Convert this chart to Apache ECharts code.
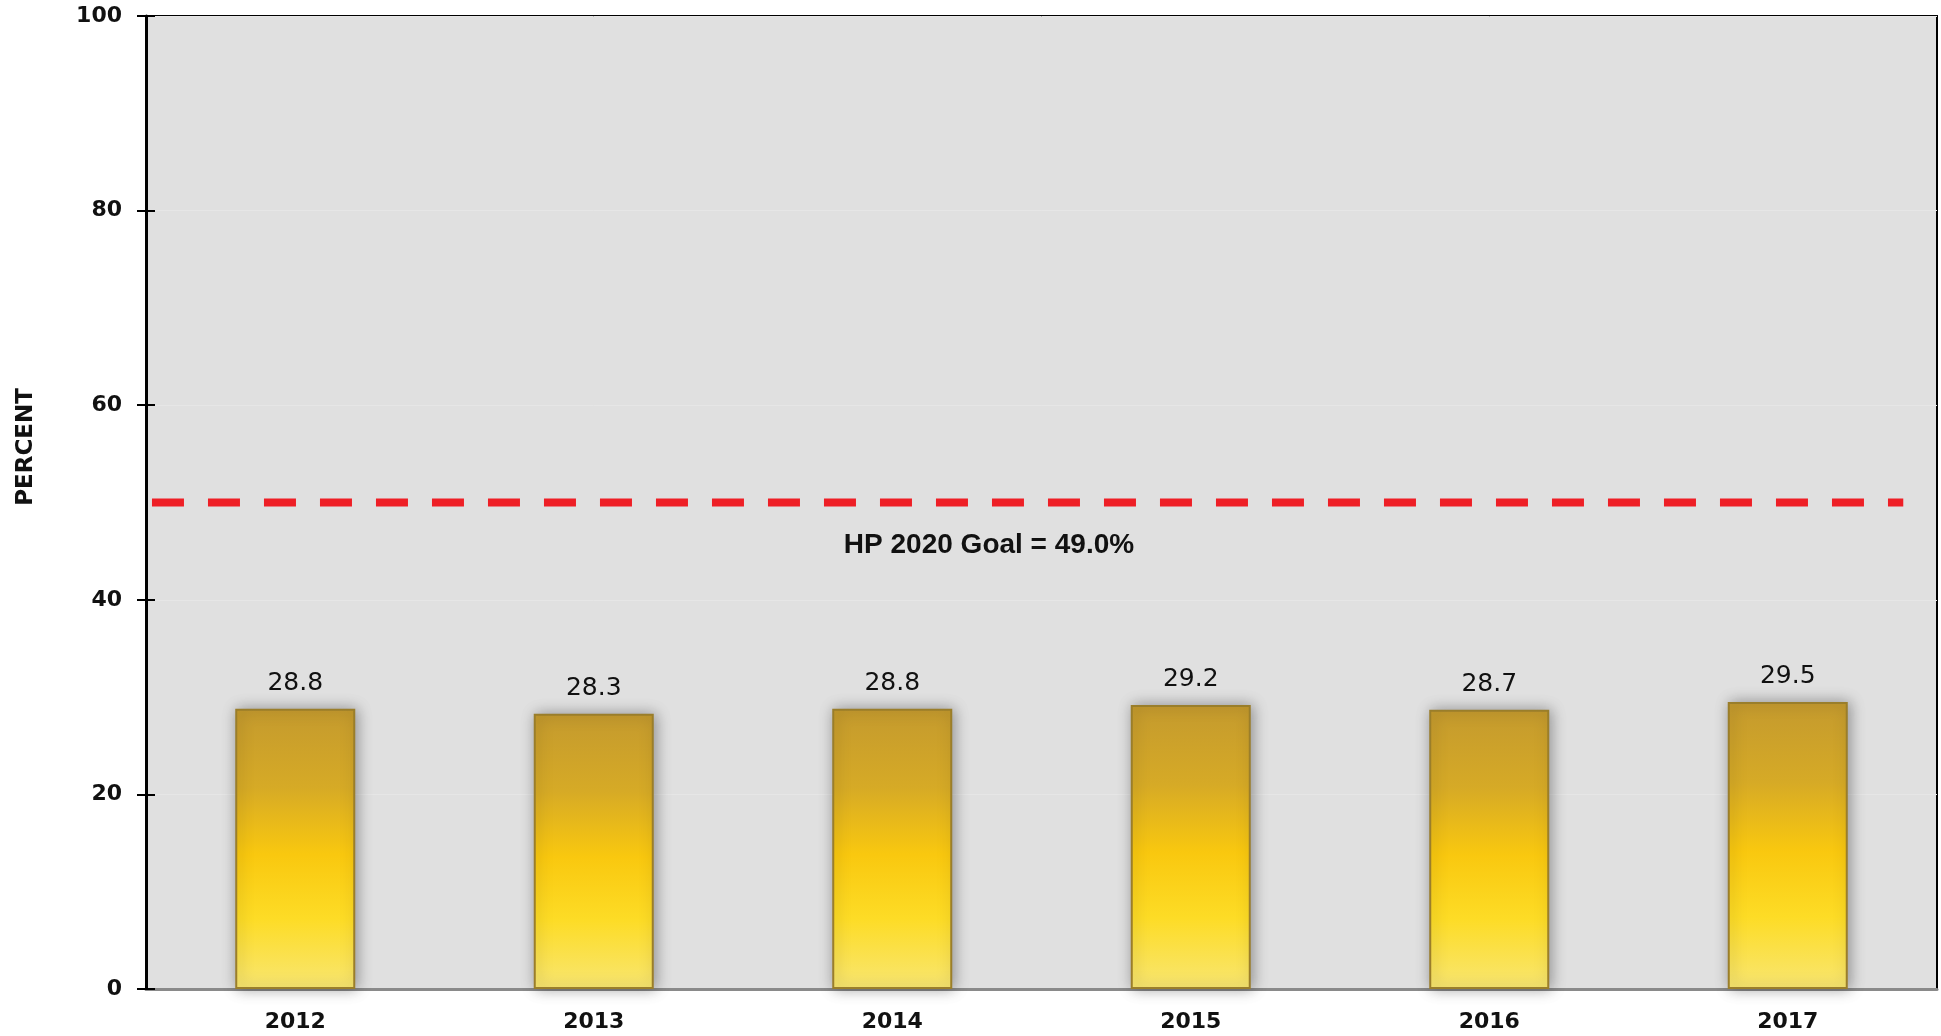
<!DOCTYPE html>
<html>
<head>
<meta charset="utf-8">
<script src="https://cdn.jsdelivr.net/npm/echarts@6/dist/echarts.min.js"></script>
<style>
  html, body { margin: 0; padding: 0; background: #fff; }
  #chart { width: 1941px; height: 1036px; }
</style>
</head>
<body>
<div id="chart"></div>
<script>
// data
const years = ['2012', '2013', '2014', '2015', '2016', '2017']
const percents = [28.8, 28.3, 28.8, 29.2, 28.7, 29.5]
const goalValue = 50
const goalLabel = 'HP 2020 Goal = 49.0%'
const yTicks = [0, 20, 40, 60, 80, 100]

const chart = echarts.init(document.getElementById('chart'))

const barColor = new echarts.graphic.LinearGradient(0, 0, 0, 1, [
  { offset: 0, color: '#c49a2e' },
  { offset: 0.28, color: '#d6aa26' },
  { offset: 0.52, color: '#f9c80f' },
  { offset: 0.75, color: '#fddc26' },
  { offset: 1, color: '#f8e672' }
])

const option = {
  backgroundColor: '#fff',
  animation: false,
  grid: {
    left: 146,
    right: 4,
    top: 16,
    bottom: 47,
    show: true,
    backgroundColor: '#e0e0e0',
    borderColor: '#000',
    borderWidth: 2
  },
  xAxis: [
    {
      type: 'category',
      data: years,
      axisLine: { lineStyle: { color: '#8a8a8a', width: 3 } },
      axisTick: { show: false },
      axisLabel: {
        margin: 22,
        color: '#111',
        fontFamily: 'DejaVu Sans',
        fontWeight: 'bold',
        fontSize: 22
      }
    },
    {
      type: 'value',
      min: 0,
      max: 6,
      show: false
    }
  ],
  yAxis: [
    {
      type: 'value',
      min: yTicks[0],
      max: yTicks[yTicks.length - 1],
      interval: 20,
      axisLine: { show: true, lineStyle: { color: '#000', width: 3 } },
      axisTick: { show: true, length: 9, lineStyle: { color: '#000', width: 2 } },
      axisLabel: {
        margin: 24,
        color: '#111',
        fontFamily: 'DejaVu Sans',
        fontWeight: 'bold',
        fontSize: 22
      },
      splitLine: { show: true, lineStyle: { color: '#e6e6e6', width: 1 } }
    },
    {
      // inner half of the ticks
      type: 'value',
      min: yTicks[0],
      max: yTicks[yTicks.length - 1],
      interval: 20,
      position: 'left',
      axisLine: { show: true, lineStyle: { color: 'rgba(0,0,0,0)', width: 1 } },
      axisTick: { show: true, inside: true, length: 9, lineStyle: { color: '#000', width: 2 } },
      axisLabel: { show: false },
      splitLine: { show: false }
    }
  ],
  series: [
    {
      type: 'bar',
      data: percents,
      barWidth: 120,
      itemStyle: {
        color: barColor,
        borderColor: '#9a7e2a',
        borderWidth: 2,
        shadowBlur: 14,
        shadowColor: 'rgba(0,0,0,0.35)',
        shadowOffsetX: 2,
        shadowOffsetY: 0
      },
      label: {
        show: true,
        position: 'top',
        distance: 13,
        color: '#111',
        fontFamily: 'DejaVu Sans',
        fontSize: 25,
        formatter: p => p.value.toFixed(1)
      },
      z: 3
    },
    {
      // goal line
      type: 'line',
      xAxisIndex: 1,
      data: [[0.02, goalValue], [5.887, goalValue]],
      symbol: 'none',
      lineStyle: { color: '#ee1f26', width: 8, type: [32, 24], cap: 'butt' },
      z: 4
    }
  ],
  graphic: [
    {
      type: 'text',
      left: 27 - 12,
      top: 449 - 61,
      rotation: Math.PI / 2,
      originX: 12,
      originY: 61,
      style: {
        text: 'PERCENT',
        fontFamily: 'DejaVu Sans',
        fontWeight: 'bold',
        fontSize: 23,
        fill: '#111'
      }
    },
    {
      type: 'text',
      x: 989,
      y: 545,
      style: {
        text: goalLabel,
        fontFamily: 'Liberation Sans',
        fontWeight: 'bold',
        fontSize: 28,
        fill: '#111',
        align: 'center',
        verticalAlign: 'middle'
      },
      z: 10
    }
  ]
}

chart.setOption(option)
</script>
</body>
</html>
